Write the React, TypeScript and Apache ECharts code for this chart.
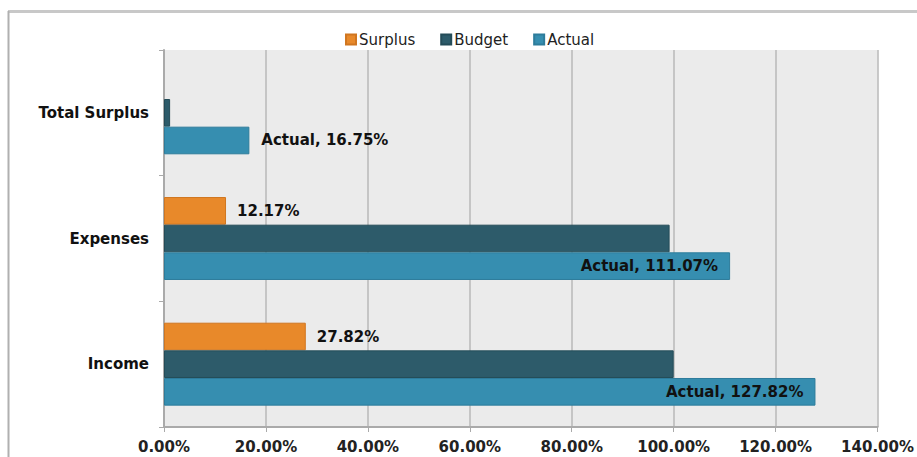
import React, { useEffect, useRef } from "react";
import * as echarts from "echarts";

const categories = ["Income", "Expenses", "Total Surplus"];
const seriesNames = ["Surplus", "Budget", "Actual"];
const surplusValues: (number | null)[] = [27.82, 12.17, null];
const budgetValues = [100, 99.2, 1.2];
const actualValues = [127.82, 111.07, 16.75];
const xTicks = { min: 0, max: 140, interval: 20 };

const FONT = "DejaVu Sans";

export default function App() {
  const ref = useRef<HTMLDivElement>(null);
  useEffect(() => {
    if (!ref.current) return;
    const chart = echarts.init(ref.current, null, { renderer: "svg" });
    const labelStyle = {
      fontFamily: FONT,
      fontWeight: "bold" as const,
      fontSize: 15,
      color: "#111",
    };
    chart.setOption({
      animation: false,
      backgroundColor: "#fff",
      textStyle: { fontFamily: FONT },
      legend: {
        data: seriesNames,
        top: 27,
        left: 340,
        icon: "rect",
        itemWidth: 10,
        itemHeight: 10,
        itemGap: 25,
        textStyle: { fontFamily: FONT, fontSize: 15, color: "#222", padding: [0, 0, 0, -2] },
      },
      grid: {
        left: 164,
        top: 50,
        right: 34,
        bottom: 30,
        show: true,
        backgroundColor: "#ebebeb",
        borderWidth: 0,
      },
      xAxis: {
        type: "value",
        min: xTicks.min,
        max: xTicks.max,
        interval: xTicks.interval,
        axisLine: { show: true, lineStyle: { color: "#aaaaaa", width: 2 } },
        axisTick: { show: true, length: 5, lineStyle: { color: "#aaaaaa" } },
        splitLine: { show: true, lineStyle: { color: "#b9b9b9", width: 1.5 } },
        axisLabel: {
          formatter: (v: number) => v.toFixed(2) + "%",
          fontFamily: FONT,
          fontWeight: "bold",
          fontSize: 15,
          color: "#222",
          margin: 12,
        },
      },
      yAxis: {
        type: "category",
        data: categories,
        axisLine: { show: true, lineStyle: { color: "#aaaaaa", width: 2 } },
        axisTick: { show: true, length: 5, lineStyle: { color: "#aaaaaa" } },
        axisLabel: {
          fontFamily: FONT,
          fontWeight: "bold",
          fontSize: 15,
          color: "#111",
          margin: 15,
          padding: [5, 0, 0, 0],
        },
      },
      series: [
        {
          name: "Surplus",
          type: "bar",
          data: surplusValues.map((v) => (v === null ? "-" : v)),
          barWidth: "22%",
          barGap: "0%",
          itemStyle: { color: "#E8892A", borderColor: "#d07620", borderWidth: 1 },
          label: {
            show: true,
            position: "right",
            distance: 11,
            formatter: (p: any) => p.value.toFixed(2) + "%",
            ...labelStyle,
          },
        },
        {
          name: "Budget",
          type: "bar",
          data: budgetValues,
          barWidth: "22%",
          barGap: "0%",
          itemStyle: { color: "#2D5B6A", borderColor: "#244c58", borderWidth: 1 },
        },
        {
          name: "Actual",
          type: "bar",
          data: actualValues.map((v) => ({
            value: v,
            label: v < 50 ? { position: "right", distance: 12 } : { position: "insideRight", distance: 12 },
          })),
          barWidth: "22%",
          barGap: "0%",
          itemStyle: { color: "#368EB0", borderColor: "#2d7c9b", borderWidth: 1 },
          label: {
            show: true,
            formatter: (p: any) => "Actual, " + p.value.toFixed(2) + "%",
            ...labelStyle,
          },
        },
      ],
      graphic: [
        {
          type: "line",
          shape: { x1: 8, y1: 11.5, x2: 917, y2: 11.5 },
          style: { stroke: "#c8c8c8", lineWidth: 3 },
          silent: true,
        },
        {
          type: "line",
          shape: { x1: 8.5, y1: 11, x2: 8.5, y2: 457 },
          style: { stroke: "#b0b0b0", lineWidth: 2 },
          silent: true,
        },
      ],
    });
    return () => chart.dispose();
  }, []);
  return (
    <div
      ref={ref}
      style={{ position: "fixed", left: 0, top: 0, width: 917, height: 457 }}
    />
  );
}
